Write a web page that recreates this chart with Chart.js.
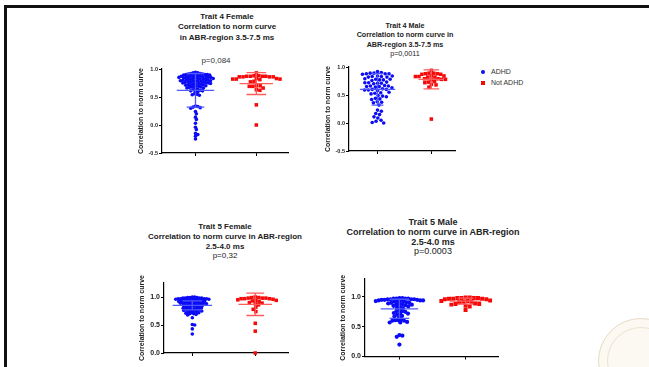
<!DOCTYPE html>
<html>
<head>
<meta charset="utf-8">
<script src="https://cdn.jsdelivr.net/npm/chart.js@4.4.1/dist/chart.umd.min.js"></script>
<style>
  body { margin: 0; width: 649px; height: 367px; overflow: hidden; background: #fff; position: relative;
         font-family: "Liberation Sans", Arial, sans-serif; }
  .frame-top { position: absolute; left: 4px; top: 5px; width: 645px; height: 3px; background: #111; }
  .frame-left { position: absolute; left: 4px; top: 5px; width: 3px; height: 362px; background: #111; }
  .ttl { position: absolute; text-align: center; font-weight: bold; color: #222; white-space: nowrap; }
  .ttl span { font-weight: normal; }
  .pv { position: absolute; text-align: center; color: #333; white-space: nowrap; }
  .leg { position: absolute; font-size: 7px; color: #333; }
  .seal { position: absolute; border-radius: 50%; }
  canvas { position: absolute; }
</style>
</head>
<body>
<div class="frame-top"></div>
<div class="frame-left"></div>

<div class="ttl" style="left:117px;top:12px;width:220px;font-size:8px;line-height:10.3px">Trait 4 Female<br>Correlation to norm curve<br>in ABR-region 3.5-7.5 ms</div>
<div class="pv" style="left:156px;top:56px;width:120px;font-size:8px;line-height:10px">p=0,084</div>

<div class="ttl" style="left:295px;top:21px;width:220px;font-size:7.2px;line-height:9.3px">Trait 4 Male<br>Correlation to norm curve in<br>ABR-region 3.5-7.5 ms<br><span>p=0,0011</span></div>

<div class="ttl" style="left:115px;top:222px;width:220px;font-size:8px;line-height:9.8px">Trait 5 Female<br>Correlation to norm curve in ABR-region<br>2.5-4.0 ms<br><span>p=0,32</span></div>

<div class="ttl" style="left:323px;top:218px;width:220px;font-size:9px;line-height:9.8px">Trait 5 Male<br>Correlation to norm curve in ABR-region<br>2.5-4.0 ms<br><span>p=0.0003</span></div>

<div style="position:absolute;left:481px;top:70px;width:4px;height:4px;border-radius:50%;background:#0b0bf5"></div>
<div class="leg" style="left:491px;top:68px">ADHD</div>
<div style="position:absolute;left:481px;top:81px;width:4px;height:4px;background:#f50a0a"></div>
<div class="leg" style="left:491px;top:79px">Not ADHD</div>

<div class="seal" style="left:598px;top:318px;width:84px;height:84px;border:1px solid #e6dac4;background:#fcf9f3"></div>
<div class="seal" style="left:607px;top:327px;width:66px;height:66px;border:1px solid #ece2d0"></div>

<canvas id="c1" width="155" height="95" style="left:137px;top:64px"></canvas>
<canvas id="c2" width="135" height="95" style="left:324px;top:62px"></canvas>
<canvas id="c3" width="154" height="101" style="left:138px;top:263px"></canvas>
<canvas id="c4" width="163" height="104" style="left:339px;top:264px"></canvas>

<script>
// group positions on the x axis: ADHD, Not ADHD
var groups = [1, 2];
var yTitle = "Correlation to norm curve";

// Trait 4 Female
var t4FemaleAdhd = [0.94,0.93,0.93,0.92,0.92,
  0.91,0.91,0.90,0.90,0.90,0.89,0.89,0.89,0.88,0.88,
  0.87,0.87,0.87,0.86,0.86,0.86,0.85,0.85,0.85,0.85,
  0.84,0.84,0.83,0.83,0.83,0.82,0.82,0.82,0.81,0.81,
  0.80,0.80,0.80,0.79,0.79,0.79,0.78,0.78,0.78,0.77,
  0.77,0.76,0.76,0.76,0.75,0.75,0.74,0.74,0.74,0.73,
  0.73,0.72,0.72,0.71,0.71,0.70,0.70,0.69,0.69,0.68,
  0.68,0.67,0.66,0.66,0.65,0.64,0.63,0.62,0.61,0.61,
  0.60,0.59,0.56,0.55,0.54,0.53,
  0.34,0.33,0.32,0.31,0.30,
  0.24,0.20,0.14,0.10,0.03,-0.04,-0.08,-0.15,-0.17,-0.20,-0.25];
var t4FemaleNot = [0.93,0.88,0.88,0.87,0.87,0.87,0.87,0.86,0.86,0.86,0.86,
  0.83,0.83,0.82,0.82,0.82,0.81,0.78,0.77,0.70,0.70,0.69,0.69,0.66,0.63,0.62,0.36,0.0];
var t4FemaleMean = [0.62, 0.74];
var t4FemaleSd = [0.30, 0.195];

// Trait 4 Male
var t4MaleAdhd = [0.92,0.90,0.89,0.89,0.88,0.88,0.88,0.87,
  0.84,0.84,0.83,0.83,0.82,0.82,0.79,0.78,0.78,0.77,0.77,0.76,
  0.73,0.72,0.72,0.71,0.71,0.70,0.67,0.66,0.66,0.65,0.65,0.64,0.63,
  0.61,0.60,0.60,0.59,0.59,0.58,0.55,0.54,0.53,0.52,0.49,0.48,0.47,
  0.44,0.43,0.42,0.38,0.37,0.36,0.32,0.23,0.21,0.17,0.15,0.11,0.09,0.05,0.03,0.01,0.0];
var t4MaleNot = [0.94,0.89,0.89,0.88,0.88,0.87,0.87,0.84,0.84,0.83,0.83,0.82,0.82,
  0.79,0.79,0.78,0.78,0.77,0.74,0.73,0.72,0.69,0.68,0.64,0.07];
var t4MaleMean = [0.60, 0.78];
var t4MaleSd = [0.28, 0.17];

// Trait 5 Female
var t5FemaleAdhd = [1.0,1.0,0.99,0.99,0.99,0.98,0.98,0.98,0.98,0.97,0.97,0.97,0.97,0.96,0.96,0.96,0.96,0.95,0.95,0.95,
  0.94,0.94,0.94,0.93,0.93,0.93,0.92,0.92,0.92,0.91,0.91,0.91,0.90,0.90,0.90,
  0.89,0.89,0.89,0.88,0.88,0.88,0.87,0.87,0.86,0.86,0.86,0.85,0.85,0.84,0.84,
  0.83,0.83,0.82,0.82,0.81,0.81,0.80,0.80,0.79,0.79,0.78,0.78,0.77,0.77,0.76,
  0.76,0.75,0.75,0.74,0.74,0.73,0.72,0.72,0.71,0.70,0.70,0.69,0.68,
  0.63,0.51,0.50,0.43,0.34];
var t5FemaleNot = [1.0,0.99,0.99,0.98,0.98,0.98,0.97,0.97,0.97,0.96,0.95,0.94,0.94,0.93,0.92,
  0.90,0.89,0.88,0.86,0.82,0.78,0.74,0.53,0.39,0.0];
var t5FemaleMean = [0.85, 0.87];
var t5FemaleSd = [0.08, 0.20];

// Trait 5 Male
var t5MaleAdhd = [0.98,0.98,0.97,0.97,0.97,0.97,0.96,0.96,0.96,0.96,0.95,0.95,0.95,0.94,0.94,0.94,
  0.93,0.93,0.93,0.92,0.92,0.91,0.90,0.90,0.89,0.88,0.88,0.87,0.87,0.86,0.85,0.84,0.83,0.82,0.81,
  0.77,0.76,0.76,0.75,0.73,0.72,0.72,0.70,0.68,0.67,0.66,
  0.62,0.61,0.61,0.60,0.60,0.58,0.57,0.57,0.36,0.35,0.33,0.20];
var t5MaleNot = [0.99,0.99,0.98,0.98,0.98,0.98,0.97,0.97,0.97,0.96,0.96,
  0.94,0.93,0.93,0.92,0.92,0.91,0.89,0.88,0.88,0.87,0.85,0.84,0.78];
var t5MaleMean = [0.80, 0.93];
var t5MaleSd = [0.16, 0.05];

var blue = "#0b0bf5", red = "#f50a0a";
var blueLine = "#4d58ff", redLine = "#ff5c5c";
var font = "'Liberation Sans', Arial, sans-serif";

// simple beeswarm: each point goes to the nearest free spot beside the group centre
function swarm(chart, values, center, diam) {
  var xs = chart.scales.x, ys = chart.scales.y;
  var cx = xs.getPixelForValue(center);
  var placed = [];
  var sorted = values.slice().sort(function (a, b) { return b - a; });
  return sorted.map(function (v) {
    var py = ys.getPixelForValue(v);
    var off = 0;
    for (var k = 0; k < 600; k++) {
      off = k === 0 ? 0 : (k % 2 ? 1 : -1) * Math.ceil(k / 2) * 0.3;
      var px = cx + off;
      var hit = placed.some(function (p) {
        return (p.x - px) * (p.x - px) + (p.y - py) * (p.y - py) < diam * diam;
      });
      if (!hit) break;
    }
    placed.push({ x: cx + off, y: py });
    return { x: xs.getValueForPixel(cx + off), y: v };
  });
}

// mean line plus SD whiskers
function meanSd(chart, center, mean, sd, halfMean, halfCap) {
  var xs = chart.scales.x;
  var cx = xs.getPixelForValue(center);
  var X = function (p) { return xs.getValueForPixel(cx + p); };
  return [
    { x: X(-halfMean), y: mean }, { x: X(halfMean), y: mean }, { x: X(0), y: null },
    { x: X(-halfCap), y: mean + sd }, { x: X(halfCap), y: mean + sd }, { x: X(0), y: null },
    { x: X(-halfCap), y: mean - sd }, { x: X(halfCap), y: mean - sd }, { x: X(0), y: null },
    { x: X(0), y: mean + sd }, { x: X(0), y: mean - sd }
  ];
}

function dotPlot(id, o) {
  var chart = new Chart(document.getElementById(id), {
    type: "scatter",
    data: {
      datasets: [
        { label: "ADHD", data: [], order: 1, clip: 8, pointStyle: "circle", pointRadius: o.r1, backgroundColor: blue, borderWidth: 0 },
        { label: "Not ADHD", data: [], order: 1, clip: 8, pointStyle: "rect", pointRadius: o.r2, backgroundColor: red, borderWidth: 0 },
        { data: [], order: 0, clip: 8, showLine: true, spanGaps: false, borderColor: blueLine, borderWidth: 1.3, pointRadius: 0 },
        { data: [], order: 0, clip: 8, showLine: true, spanGaps: false, borderColor: redLine, borderWidth: 1.3, pointRadius: 0 }
      ]
    },
    options: {
      responsive: false,
      animation: false,
      events: [],
      layout: { padding: { left: 0, top: o.padTop, right: 2, bottom: o.padBottom } },
      plugins: { legend: { display: false }, tooltip: { enabled: false } },
      scales: {
        x: {
          type: "linear", min: o.xMin, max: o.xMax,
          afterBuildTicks: function (s) { s.ticks = groups.map(function (v) { return { value: v }; }); },
          afterFit: function (s) { s.height = 5; },
          ticks: { display: false },
          grid: { drawOnChartArea: false, tickLength: 3, color: "#000", lineWidth: 1 },
          border: { color: "#000", width: 1.2 }
        },
        y: {
          min: o.yMin, max: o.yMax,
          afterBuildTicks: function (s) { s.ticks = o.yTicks.map(function (v) { return { value: v }; }); },
          afterFit: function (s) { s.width = o.yWidth; },
          ticks: { color: "#222", padding: 1, font: { family: font, size: o.tickSize, weight: "bold" },
                   callback: function (v) { return v.toFixed(1); } },
          grid: { drawOnChartArea: false, tickLength: 3, color: "#000", lineWidth: 1 },
          border: { color: "#000", width: 1.2 },
          title: { display: true, text: yTitle, color: "#222", padding: 0,
                   font: { family: font, size: 7, weight: "bold" } }
        }
      }
    }
  });
  var d = chart.data.datasets;
  d[0].data = swarm(chart, o.adhd, groups[0], o.d1);
  d[1].data = swarm(chart, o.not, groups[1], o.d2);
  d[2].data = meanSd(chart, groups[0], o.mean[0], o.sd[0], o.w1[0], o.w1[1]);
  d[3].data = meanSd(chart, groups[1], o.mean[1], o.sd[1], o.w2[0], o.w2[1]);
  chart.update("none");
  return chart;
}

dotPlot("c1", {
  adhd: t4FemaleAdhd, not: t4FemaleNot, mean: t4FemaleMean, sd: t4FemaleSd,
  xMin: 0.45, xMax: 2.52, yMin: -0.5, yMax: 1.0, yTicks: [-0.5, 0, 0.5, 1.0], yWidth: 25, tickSize: 5.5,
  padTop: 5, padBottom: 1,
  r1: 1.8, r2: 2.5, d1: 2.4, d2: 3.6, w1: [19, 9], w2: [17, 10]
});
dotPlot("c2", {
  adhd: t4MaleAdhd, not: t4MaleNot, mean: t4MaleMean, sd: t4MaleSd,
  xMin: 0.47, xMax: 2.44, yMin: -0.5, yMax: 1.0, yTicks: [-0.5, 0, 0.5, 1.0], yWidth: 25, tickSize: 5.5,
  padTop: 5, padBottom: 1,
  r1: 1.8, r2: 2.5, d1: 3.8, d2: 3.6, w1: [18, 6], w2: [13, 8]
});
dotPlot("c3", {
  adhd: t5FemaleAdhd, not: t5FemaleNot, mean: t5FemaleMean, sd: t5FemaleSd,
  xMin: 0.55, xMax: 2.52, yMin: 0, yMax: 1.25, yTicks: [0, 0.5, 1.0], yWidth: 26, tickSize: 7,
  padTop: 20, padBottom: 6,
  r1: 1.8, r2: 2.5, d1: 2.3, d2: 3.4, w1: [20, 10], w2: [17, 9]
});
dotPlot("c4", {
  adhd: t5MaleAdhd, not: t5MaleNot, mean: t5MaleMean, sd: t5MaleSd,
  xMin: 0.48, xMax: 2.49, yMin: 0, yMax: 1.3, yTicks: [0, 0.5, 1.0], yWidth: 26, tickSize: 7,
  padTop: 15, padBottom: 6.5,
  r1: 2.1, r2: 2.8, d1: 3.0, d2: 4.0, w1: [19, 10], w2: [16, 8]
});
</script>
</body>
</html>
